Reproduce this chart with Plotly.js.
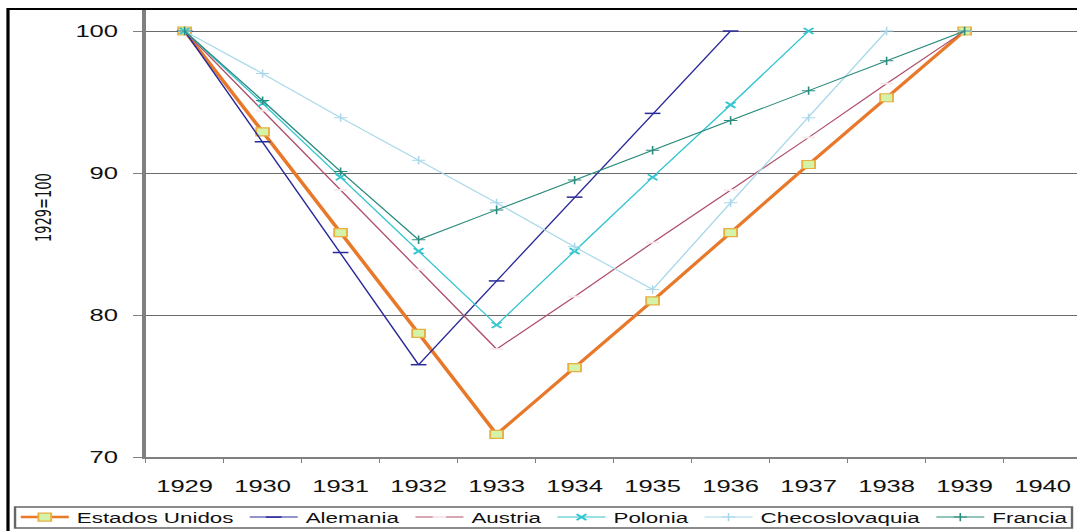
<!DOCTYPE html>
<html>
<head>
<meta charset="utf-8">
<script src="https://cdn.plot.ly/plotly-3.0.1.min.js"></script>
<style>
html,body{margin:0;padding:0;overflow:hidden;background:#fff;width:1077px;height:531px;}
#wrap{width:1077px;height:531px;overflow:hidden;position:relative;}
#chart{width:677px;height:531px;transform:scaleX(1.6);transform-origin:0 0;}
</style>
</head>
<body>
<div id="wrap"><div id="chart"></div></div>
<script>
// ---- data ----
const years = ['1929','1930','1931','1932','1933','1934','1935','1936','1937','1938','1939','1940'];
const yTicks = [70, 80, 90, 100];
const estadosUnidos  = [100, 92.9, 85.8, 78.7, 71.6, 76.3, 81.0, 85.8, 90.6, 95.3, 100];
const alemania       = [100, 92.2, 84.4, 76.5, 82.4, 88.3, 94.2, 100];
const austria        = [100, 94.4, 88.8, 83.2, 77.6, 81.3, 85.1, 88.8, 92.5, 96.3, 100];
const polonia        = [100, 94.9, 89.7, 84.5, 79.3, 84.5, 89.7, 94.8, 100];
const checoslovaquia = [100, 97.0, 93.9, 90.9, 87.9, 84.8, 81.8, 87.9, 93.9, 100];
const francia        = [100, 95.1, 90.1, 85.3, 87.4, 89.5, 91.6, 93.7, 95.8, 97.9, 100];
const seriesNames = ['Estados Unidos','Alemania','Austria','Polonia','Checoslovaquia','Francia'];
const yTitle = '1929=100';

// ---- styles ----
const styles = [
  {line:{color:'#E8782A', width:2.5}, marker:{symbol:'square', size:8, color:'#D4F2A8', line:{color:'#E8B040', width:1.2}}},
  {line:{color:'#2A2A9A', width:1}, marker:{symbol:'line-ew-open', size:7, color:'#2A2A9A', line:{color:'#2A2A9A', width:1.5}}},
  {line:{color:'#B0506A', width:1}, marker:{symbol:'line-ew-open', size:6, color:'#F6EAEC', line:{color:'#F6EAEC', width:2}}},
  {line:{color:'#33C5D0', width:1}, marker:{symbol:'x-thin-open', size:6, color:'#33C5D0', line:{color:'#33C5D0', width:1.5}}},
  {line:{color:'#A8D8EA', width:1}, marker:{symbol:'cross-thin-open', size:6, color:'#A8D8EA', line:{color:'#A8D8EA', width:1}}},
  {line:{color:'#2A8C7C', width:1}, marker:{symbol:'cross-thin-open', size:6, color:'#2A8C7C', line:{color:'#2A8C7C', width:1}}}
];
const allSeries = [estadosUnidos, alemania, austria, polonia, checoslovaquia, francia];

const traces = allSeries.map((vals, i) => ({
  type:'scatter', mode:'lines+markers',
  name: seriesNames[i],
  x: years.slice(0, vals.length),
  y: vals,
  line: styles[i].line,
  marker: styles[i].marker,
  cliponaxis: false
}));

const W = 677, H = 531;
const L = 91, R = 1, T = 9, B = 74;
const pw = W - L - R, ph = H - T - B;
const px = u => (u - L) / pw;           // unscaled px -> paper x
const py = v => (H - B - v) / ph;       // px from top -> paper y

const font = 'Liberation Sans, Arial, sans-serif';

const layout = {
  width: W, height: H,
  margin: {l:L, r:R, t:T, b:B, autoexpand:false},
  paper_bgcolor:'#ffffff', plot_bgcolor:'#ffffff',
  showlegend: true,
  font: {family: font, color:'#111', size:16},
  xaxis: {
    type:'category', categoryorder:'array', categoryarray: years,
    range:[-0.5, 11.5], tickson:'boundaries',
    ticks:'outside', ticklen:4, tickwidth:1, tickcolor:'#808080',
    ticklabelstandoff: 14,
    showline:true, linecolor:'#808080', linewidth:2,
    showgrid:false, zeroline:false,
    tickfont:{family:font, size:16, color:'#111'}
  },
  yaxis: {
    range:[70, 101.55], tickvals: yTicks, ticktext: yTicks.map(String),
    ticks:'outside', ticklen:6, tickwidth:1, tickcolor:'#808080',
    ticklabelstandoff: 6,
    showline:true, linecolor:'#808080', linewidth:2,
    showgrid:true, gridcolor:'#6a6a6a', gridwidth:1, zeroline:false,
    tickfont:{family:font, size:16, color:'#111'}
  },
  legend: {
    orientation:'h', x: px(8), xanchor:'left', y: py(517.5), yanchor:'middle',
    bgcolor:'rgba(0,0,0,0)', borderwidth:0, itemwidth:30,
    font:{family:font, size:14, color:'#111'}, traceorder:'normal'
  },
  annotations: [{
    text: yTitle, textangle:-90, showarrow:false,
    xref:'paper', yref:'paper', x: px(27), y: py(208),
    xanchor:'center', yanchor:'middle',
    font:{family:'DejaVu Sans, sans-serif', size:13, color:'#111'}
  }],
  shapes: [
    {type:'rect', xref:'paper', yref:'paper', x0:px(5), x1:px(700), y0:py(540), y1:py(9),
     line:{color:'#000', width:2}, fillcolor:'rgba(0,0,0,0)'},
    {type:'rect', xref:'paper', yref:'paper', x0:px(9.4), x1:px(670), y0:py(528), y1:py(507),
     line:{color:'#666', width:1.5}, fillcolor:'rgba(0,0,0,0)'}
  ]
};

Plotly.newPlot('chart', traces, layout, {displayModeBar:false, staticPlot:true});
</script>
</body>
</html>
